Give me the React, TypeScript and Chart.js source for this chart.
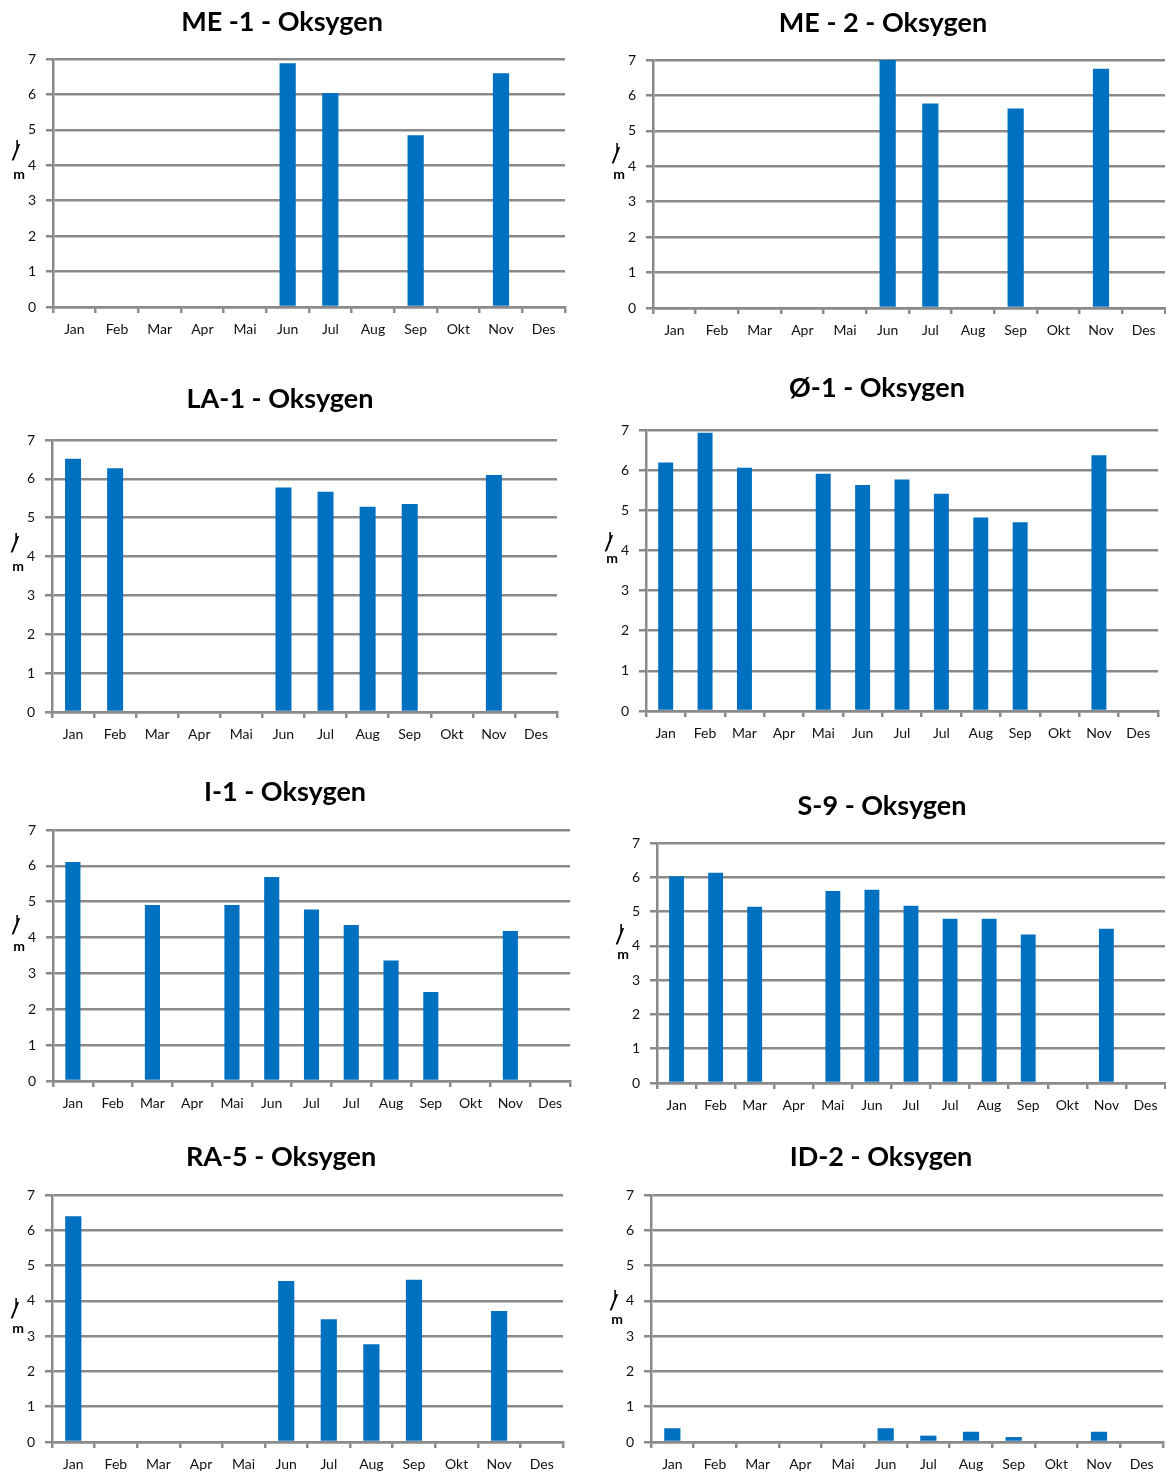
import React, { useEffect, useRef } from 'react';
import { Chart, registerables } from 'chart.js';

Chart.register(...registerables);

// ---- data ----
const monthLabels = ['Jan', 'Feb', 'Mar', 'Apr', 'Mai', 'Jun', 'Jul', 'Aug', 'Sep', 'Okt', 'Nov', 'Des'];
const monthLabelsTwoJul = ['Jan', 'Feb', 'Mar', 'Apr', 'Mai', 'Jun', 'Jul', 'Jul', 'Aug', 'Sep', 'Okt', 'Nov', 'Des'];

const me1Values = [null, null, null, null, null, 6.88, 6.04, null, 4.85, null, 6.6, null];
const me2Values = [null, null, null, null, null, 7.0, 5.77, null, 5.63, null, 6.75, null];
const la1Values = [6.52, 6.27, null, null, null, 5.78, 5.67, 5.28, 5.35, null, 6.1, null];
const o1Values = [6.19, 6.93, 6.06, null, 5.91, 5.63, 5.77, 5.41, 4.82, 4.7, null, 6.37, null];
const i1Values = [6.11, null, 4.91, null, 4.91, 5.69, 4.78, 4.35, 3.36, 2.48, null, 4.18, null];
const s9Values = [6.03, 6.13, 5.14, null, 5.6, 5.64, 5.17, 4.79, 4.79, 4.33, null, 4.5, null];
const ra5Values = [6.4, null, null, null, null, 4.56, 3.48, 2.77, 4.6, null, 3.71, null];
const id2Values = [0.39, null, null, null, null, 0.39, 0.18, 0.29, 0.14, null, 0.29, null];

const yMin = 0;
const yMax = 7;
const yStep = 1;
const unitText = ['l', '/', 'm'];

// ---- layout (page coordinates) ----
const panels = [
  { title: 'ME -1 - Oksygen', labels: monthLabels, values: me1Values, tc: 282, ty: 22, cl: 53, cr: 565, ct: 59, cb: 307, sDy: -14, mDy: 9 },
  { title: 'ME - 2 - Oksygen', labels: monthLabels, values: me2Values, tc: 883, ty: 23, cl: 653, cr: 1165, ct: 60, cb: 308, sDy: -12, mDy: 8 },
  { title: 'LA-1 - Oksygen', labels: monthLabels, values: la1Values, tc: 280, ty: 399, cl: 52, cr: 557, ct: 440, cb: 712, sDy: -13, mDy: 10 },
  { title: 'Ø-1 - Oksygen', labels: monthLabelsTwoJul, values: o1Values, tc: 877, ty: 388, cl: 646, cr: 1158, ct: 430, cb: 711, sDy: -8, mDy: 8 },
  { title: 'I-1 - Oksygen', labels: monthLabelsTwoJul, values: i1Values, tc: 285, ty: 792, cl: 53, cr: 570, ct: 830, cb: 1081, sDy: -12, mDy: 9 },
  { title: 'S-9 - Oksygen', labels: monthLabelsTwoJul, values: s9Values, tc: 882, ty: 806, cl: 657, cr: 1165, ct: 843, cb: 1083, sDy: -11, mDy: 9 },
  { title: 'RA-5 - Oksygen', labels: monthLabels, values: ra5Values, tc: 281, ty: 1157, cl: 52, cr: 563, ct: 1195, cb: 1442, sDy: 8, mDy: 28 },
  { title: 'ID-2 - Oksygen', labels: monthLabels, values: id2Values, tc: 881, ty: 1157, cl: 651, cr: 1163, ct: 1195, cb: 1442, sDy: 0, mDy: 19 },
];

const FONT = 'Lato, "Open Sans", "DejaVu Sans", sans-serif';
const GRID = '#8a8a8a';
const BAR = '#0070c0';
const TEXT = '#111111';

function Panel({ cfg }: { cfg: any }) {
  const ref = useRef<HTMLCanvasElement>(null);
  const pl = 10;
  const pr = 3;
  const titleSize = 27;
  const titleLine = titleSize * 1.2;
  const x0 = 2 * cfg.tc - cfg.cr - pl;
  const w = cfg.cr + pr - x0;
  const yw = cfg.cl - (2 * cfg.tc - cfg.cr);
  const y0 = Math.round(cfg.ty - titleLine / 2);
  const h = cfg.cb - y0 + 36;
  const xh = h - (cfg.cb - y0);
  const padBottom = cfg.ct - y0 - titleLine;

  useEffect(() => {
    const unitLabel = {
      id: 'unitLabel',
      afterDraw(chart: any) {
        const { ctx, chartArea } = chart;
        const ys = chart.scales.y;
        const x = chartArea.left - 37;
        const y = ys.getPixelForValue(4);
        ctx.save();
        ctx.fillStyle = '#000';
        ctx.textAlign = 'center';
        ctx.textBaseline = 'middle';
        ctx.font = `bold 13px ${FONT}`;
        ctx.fillText(unitText[0], x + 1, y + cfg.sDy - 5);
        ctx.font = `bold 21px ${FONT}`;
        ctx.fillText(unitText[1], x, y + cfg.sDy + 2);
        ctx.font = `bold 14px ${FONT}`;
        ctx.fillText(unitText[2], x + 3, y + cfg.mDy);
        ctx.restore();
      },
    };
    const chart = new Chart(ref.current as HTMLCanvasElement, {
      type: 'bar',
      data: {
        labels: cfg.labels,
        datasets: [
          {
            data: cfg.values,
            backgroundColor: BAR,
            borderWidth: 0,
            barPercentage: 0.38,
            categoryPercentage: 1,
          },
        ],
      },
      options: {
        animation: false,
        responsive: false,
        maintainAspectRatio: false,
        devicePixelRatio: 1,
        layout: { padding: { left: pl, right: pr, top: 0, bottom: 0 } },
        plugins: {
          legend: { display: false },
          tooltip: { enabled: false },
          title: {
            display: true,
            text: cfg.title,
            color: '#000',
            font: { family: FONT, size: titleSize, weight: 'bold', lineHeight: 1.2 },
            padding: { top: 0, bottom: padBottom },
          },
        },
        scales: {
          x: {
            afterFit: (s: any) => { s.height = xh; },
            grid: { drawOnChartArea: false, drawTicks: true, tickLength: 6, color: GRID, lineWidth: 2.5, offset: true },
            border: { display: true, color: GRID, width: 2.5 },
            ticks: { color: TEXT, font: { family: FONT, size: 14 }, padding: 8, maxRotation: 0, autoSkip: false },
          },
          y: {
            min: yMin,
            max: yMax,
            afterFit: (s: any) => { s.width = yw; },
            grid: { color: GRID, lineWidth: 2.5, drawTicks: true, tickLength: 7 },
            border: { display: true, color: GRID, width: 2.5 },
            ticks: { stepSize: yStep, color: TEXT, font: { family: FONT, size: 14 }, padding: 10 },
          },
        },
      },
      plugins: [unitLabel],
    } as any);
    return () => chart.destroy();
  }, []);

  return (
    <canvas
      ref={ref}
      width={w}
      height={h}
      style={{ position: 'absolute', left: x0, top: y0, width: w, height: h }}
    />
  );
}

export default function App() {
  return (
    <div style={{ position: 'absolute', left: 0, top: 0, width: 1166, height: 1475, overflow: 'hidden', background: '#fff' }}>
      {panels.map((p, i) => (
        <Panel key={i} cfg={p} />
      ))}
    </div>
  );
}
